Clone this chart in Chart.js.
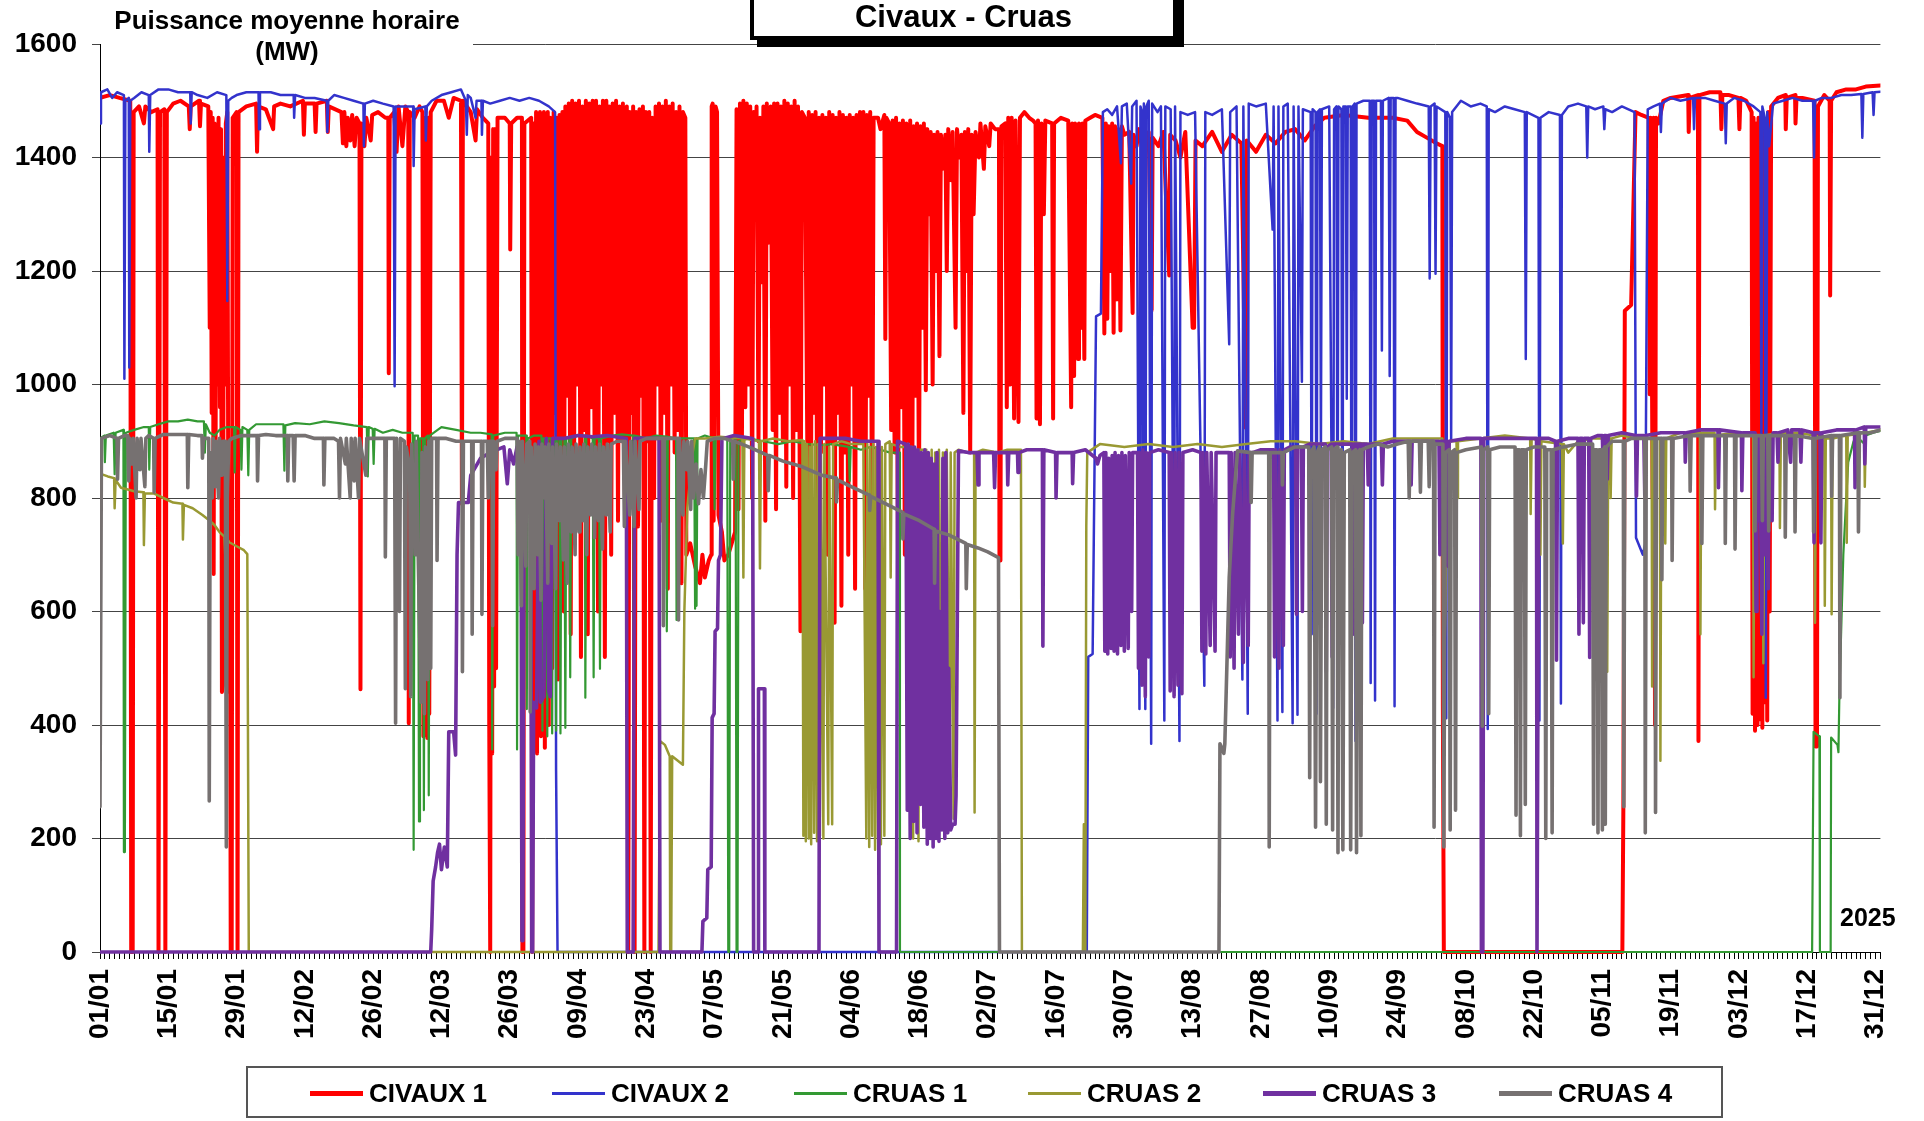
<!DOCTYPE html>
<html>
<head>
<meta charset="utf-8">
<script src="https://cdn.jsdelivr.net/npm/chart.js@4.4.1/dist/chart.umd.min.js"></script>
<style>
  html, body { margin: 0; padding: 0; background: #fff; overflow: hidden; }
  #wrap { position: relative; width: 1924px; height: 1121px; font-family: "Liberation Sans", Arial, sans-serif; font-weight: bold; color: #000; }
  #chart { position: absolute; left: 0; top: 0; }
  #yTitle { position: absolute; left: 101px; top: 0; width: 372px; height: 64px; background: #fff; text-align: center; font-size: 26px; line-height: 31px; padding-top: 5px; box-sizing: border-box; }
  #title { position: absolute; left: 750px; top: -10px; width: 419px; height: 39px; border: 4px solid #000; background: #fff; box-shadow: 7px 7px 0 #000; text-align: center; font-size: 31px; line-height: 39px; padding-top: 3px; box-sizing: content-box; }
  #year { position: absolute; left: 1840px; top: 903px; font-size: 25px; line-height: 28px; }
  #legend { position: absolute; left: 246px; top: 1066px; width: 1477px; height: 52px; border: 2px solid #555; box-sizing: border-box; }
  .item { position: absolute; top: 0; height: 50px; display: flex; align-items: center; font-size: 26px; }
  .item span.line { display: inline-block; width: 53px; margin-right: 6px; }
</style>
</head>
<body>
<div id="wrap">
  <canvas id="chart" width="1924" height="1121"></canvas>
  <div id="yTitle">Puissance moyenne horaire<br>(MW)</div>
  <div id="title">Civaux - Cruas</div>
  <div id="year">2025</div>
  <div id="legend"></div>
</div>
<script>
// x = day of year (0 = 01/01), y = MW
const tickLabels = ["01/01","15/01","29/01","12/02","26/02","12/03","26/03","09/04","23/04","07/05","21/05","04/06","18/06","02/07","16/07","30/07","13/08","27/08","10/09","24/09","08/10","22/10","05/11","19/11","03/12","17/12","31/12"];
const seriesNames = ["CIVAUX 1", "CIVAUX 2", "CRUAS 1", "CRUAS 2", "CRUAS 3", "CRUAS 4"];

const civaux1 = [
[0,1505],[2,1510],[4,1505],[6.2,1500],[6.4,0],[6.7,0],[6.9,1480],[8,1490],[9,1460],[9.3,1490],[10.5,1480],[11.8,1485],[12,0],[12.3,1480],[13.2,1485],[13.4,0],[13.7,1480],[15,1495],[16.5,1500],[18.2,1490],[18.4,1450],[18.6,1490],[20.3,1500],[20.5,1455],[20.7,1495],[22.2,1490],
[22.5,1100],[22.7,1480],[22.9,950],[23.1,1470],[23.3,666],[23.5,1460],[23.7,900],[23.9,1450],[24.1,1000],[24.3,1470],[24.6,960],[24.8,1450],[25,458],[25.2,470],[25.4,1400],[25.6,1000],[25.8,1460],[26.1,1480],[26.4,458],[26.7,458],[26.8,0],[27,0],[27.2,1470],[28,1480],[28.2,0],[28.4,1480],
[30,1490],[32,1495],[32.2,1410],[32.4,1490],[34,1485],[35.5,1450],[35.7,1490],[37,1495],[39,1490],[41.6,1500],[41.8,1440],[42,1495],[44,1495],[44.2,1445],[44.4,1495],[46.5,1500],[46.7,1445],[46.9,1490],
[49.5,1480],[49.8,1425],[50.1,1480],[50.5,1420],[50.8,1470],[51.3,1430],[51.7,1475],[52.2,1420],[52.6,1470],[53.2,1460],[53.4,463],[53.6,1460],[54.2,1420],[54.6,1470],[55.5,1430],[55.8,1475],[57,1480],[58.5,1470],[59.1,1470],[59.2,1020],[59.4,1470],[60.3,1480],
[60.8,1410],[61.2,1490],[62,1420],[62.6,1490],[63.2,1480],[63.3,403],[63.5,1480],[64.5,1470],[65.5,1490],[66.1,1480],[66.3,380],[66.5,1470],[66.7,400],[66.9,1460],[67.1,377],[67.3,1470],[67.5,420],[67.8,1480],[69,1500],[70.5,1500],[71.5,1470],[72.5,1505],[74,1500],[74.2,790],[74.4,1500],[76,1480],[77,1430],[77.3,1485],[78.5,1470],
[79.6,1460],[79.8,400],[80,0],[80.2,1400],[80.4,350],[80.6,1450],[80.8,468],[81,1450],[81.2,500],[81.5,1470],[83,1470],[84,1460],[84.1,1238],[84.3,1460],[85.5,1470],[86.5,1470],[86.6,0],[86.8,0],[87,1460],[88.4,1470],[88.6,0],[88.9,1460],
[89.2,400],[89.4,1480],[89.6,350],[89.8,1470],[90,450],[90.2,1480],[90.4,380],[90.6,1470],[90.8,420],[91,1480],[91.2,360],[91.4,1470],[91.6,450],[91.8,1480],[92,400],[92.3,1470],
[92.7,500],[93,1480],[93.3,950],[93.6,1470],[93.9,480],[94.2,1475],[94.5,900],[94.8,1480],[95.1,600],[95.4,1490],[95.8,980],[96.1,1495],[96.5,560],[96.8,1500],[97.2,880],[97.5,1495],[97.9,1000],[98.2,1500],[98.6,520],[98.9,1490],[99.3,920],[99.6,1500],[100,560],[100.3,1495],[100.7,960],[101,1500],[101.4,870],[101.7,1500],[102.1,600],[102.4,1490],[102.8,1000],[103.1,1500],[103.5,520],[103.8,1500],[104.1,900],[104.4,1490],[104.8,700],[105.1,1495],[105.5,950],[105.8,1500],[106.2,760],[106.5,1490],[106.9,900],[107.2,1495],[107.6,800],[108,1490],[108.3,0],[108.6,1480],[109,950],[109.3,1490],[109.6,0],[109.9,1480],[110.3,750],[110.6,1485],[111,980],[111.3,1490],[111.6,0],[111.9,1480],[112.3,900],[112.6,1480],[112.9,0],[113.2,1470],[113.6,800],[113.9,1490],[114.3,1000],[114.6,1495],[115,760],[115.3,1490],[115.7,950],[116,1500],[116.4,640],[116.7,1490],[117.1,1000],[117.4,1495],[117.8,880],[118.1,1480],[118.5,920],[118.8,1490],[119.2,650],[119.5,1480],
[120,1470],[120.2,700],[121,720],[122,680],[123,650],[123.5,700],[124,660],[124.8,690],[125.3,700],[125.4,1490],[125.6,1495],[125.8,760],[126.2,1490],[126.5,1480],[126.8,770],[127.5,740],[128,690],[128.8,700],[129.5,720],[130.2,740],
[130.5,1485],[130.9,780],[131.2,1495],[131.6,900],[131.9,1500],[132.3,960],[132.6,1495],[133,1000],[133.3,1490],[133.7,800],[134,1480],[134.4,1300],[134.6,1490],[135,900],[135.3,1470],[135.7,1180],[136,1490],[136.4,760],[136.7,1495],[137.1,1250],[137.5,1490],[137.9,920],[138.2,1495],
[138.6,780],[138.9,1495],[139.3,950],[139.6,1490],[140,900],[140.3,1500],[140.7,820],[141,1495],[141.4,1000],[141.7,1490],[142.1,800],[142.4,1500],[142.8,920],[143.1,1490],[143.6,565],[143.9,1480],
[144.5,1470],[145,900],[145.3,1480],[145.7,620],[146,1475],[146.4,950],[146.7,1480],[147.1,590],[147.4,1470],[147.8,880],[148.1,1475],[148.5,1000],[148.8,1470],[149.2,700],[149.5,1480],[149.9,900],[150.2,1475],[150.6,580],[150.9,1470],[151.3,950],[151.6,1480],[152,610],[152.3,1475],[152.7,880],[153,1470],[153.4,700],[153.7,1475],[154.1,1000],[154.4,1470],[154.8,640],[155.1,1475],[155.5,900],[155.8,1480],
[156.2,900],[156.5,1480],[156.9,640],[157.2,1475],[157.6,980],[157.9,1480],[158.3,680],[158.6,1470],[159.5,1470],[160,1450],[160.8,1475],[161,1080],[161.2,1470],
[161.8,1460],[162.2,920],[162.5,1465],[162.9,880],[163.2,1470],[163.6,690],[163.9,1460],[164.3,960],[164.6,1465],[165,700],[165.3,1460],[165.8,900],[166.1,1465],[166.5,760],[166.8,1455],[167.2,980],[167.5,1460],[167.9,800],[168.2,1455],[168.6,1100],[168.9,1460],[169.3,990],[169.6,1450],
[170,1300],[170.3,1445],[170.7,1000],[171,1440],[171.4,1200],[171.7,1445],[172.1,1050],[172.4,1440],[172.8,1380],[173.3,1440],[173.6,1200],[173.9,1450],[174.5,1360],[174.8,1445],[175.4,1100],[175.7,1450],[176.2,1400],[176.6,1440],[177,950],[177.3,1445],[177.7,1200],[178,1450],[178.4,880],[178.7,1440],[179.1,1300],[179.5,1445],[180.2,1400],[180.5,1460],[181.2,1380],[181.5,1455],[182.3,1420],[182.6,1460],[183.5,1450],[184.3,1450],[184.4,690],[184.6,690],[184.8,1455],
[185.6,1460],[185.9,960],[186.2,1470],[186.6,1000],[186.9,1470],[187.4,940],[187.7,1465],[188.3,934],[188.6,1470],[189.5,1480],[190.5,1470],[191.3,1465],[191.8,1460],[192,940],[192.3,1465],[192.7,930],[193,1460],[193.5,1300],[193.8,1465],[195.2,1460],[195.4,940],[195.6,1460],[197,1470],[198.5,1465],[199.1,960],[199.3,1460],[199.7,1015],[199.9,1460],[200.5,1045],[200.7,1460],[201.2,1100],[201.4,1460],[201.8,1045],[202,1465],[203,1470],[204,1475],[205.5,1470],
[205.9,1090],[206.2,1460],[206.5,1116],[206.8,1455],[207.2,1200],[207.5,1460],[207.8,1091],[208.1,1455],[208.5,1150],[208.8,1450],[209.2,1095],[209.5,1455],
[210,1440],[211,1445],[211.7,1126],[211.9,1440],[212.5,1420],[213,1450],[214,1400],[215,1445],[215.6,1131],[215.8,1435],[217,1420],[218,1445],[219.2,1192],[219.4,1440],[220.5,1430],[221.5,1400],[222.5,1445],[224,1100],[224.3,1100],[224.6,1430],[226,1420],[228,1445],[230,1410],[232,1440],[234,1425],[234.9,924],[235.1,1430],[237,1410],[239,1440],[241,1425],[243,1445],[245,1450],[247,1430],[249,1455],[251,1470],[255,1475],[260,1470],[265,1470],[268,1465],[270,1445],[272,1435],[274,1425],[275.2,1420],[275.3,433],[275.5,0],
[312.1,0],[312.3,250],[312.6,1130],[313.9,1140],[314.8,1480],[316,1475],[317.5,1470],[317.7,983],[317.9,1470],[318.3,800],[318.5,1470],[318.8,400],[319,1470],[319.5,1460],[320.5,1500],[322,1505],[325.6,1510],[325.7,1445],[325.9,1505],[327.6,1510],[327.7,372],[327.9,1510],[330,1515],[332.2,1515],[332.4,1450],[332.6,1510],[334,1510],[335.9,1505],[336.1,1450],[336.3,1505],[337.5,1500],
[338.6,1480],[338.8,420],[339,1470],[339.3,390],[339.5,1460],[339.8,400],[340,1470],[340.3,410],[340.5,1460],[340.8,395],[341,1470],[341.3,440],[341.5,1460],[341.8,408],[342,1480],[342.3,600],[342.6,1490],
[344,1505],[345.5,1510],[345.6,1450],[345.8,1505],[347.5,1510],[347.6,1460],[347.8,1505],[349,1505],[351.5,1500],[351.7,362],[352,362],[352.2,1490],[353.5,1510],[354.6,1500],[354.7,1157],[354.9,1500],[356,1515],[358,1520],[360,1520],[362,1525],[365,1527]
];

const civaux2 = [
[0,1460],[0.2,1515],[1.5,1520],[2.5,1505],[3.5,1515],[4.9,1510],[5,1010],[5.2,1500],[5.9,1505],[6,1030],[6.2,1500],[7,1505],[8.5,1515],[10,1510],[10.1,1410],[10.3,1510],[12,1520],[14,1520],[16,1515],[18.5,1515],[18.6,1460],[18.8,1515],[20,1510],[22,1505],[24,1515],[25.9,1510],[26.1,1147],[26.3,1500],[27,1505],[28,1510],[30,1515],[32.5,1515],[32.6,1450],[32.8,1515],[35,1515],[37,1510],[39.7,1510],[39.8,1470],[40,1510],[42,1505],[44,1505],[46.5,1500],[46.6,1445],[46.8,1500],[48,1510],[50,1505],[52,1500],[54,1495],[54.1,1420],[54.3,1495],[56,1500],[58,1495],[60.2,1490],[60.4,997],[60.6,1490],[62,1490],[64.2,1490],[64.3,1385],[64.5,1485],[66.7,1490],[66.8,1430],[67,1490],[68,1500],[70,1510],[72,1515],[74,1520],[75,1500],[75.2,1440],[75.4,1510],[76,1505],[77,1470],[77.2,1500],[78.2,1500],[78.3,1440],[78.5,1500],[80,1495],[82,1500],[84,1505],[86,1500],[88,1505],[90,1500],[92,1490],[93.3,1480],[93.5,320],[93.8,0],
[202.3,0],[202.6,520],[203.5,525],[204.2,1120],[205.2,1125],[205.6,1480],
[206.5,1485],[207.5,1475],[208.5,1490],[209.3,1390],[209.5,1490],[210.5,1495],[211.4,1354],[211.6,1490],[212.5,1500],[213.1,428],[213.3,1490],[213.6,1480],[213.8,489],[214,1495],[214.3,428],[214.5,1490],[215,1500],[215.5,367],[215.7,1495],[216.8,1480],[217.5,1490],[218.2,408],[218.4,1490],[219.5,1485],[220.2,460],[220.4,1490],[221.3,372],[221.5,1480],[223,1475],[224.5,1480],[226.4,469],[226.6,1480],[228,1475],[230,1485],[231.5,1071],[231.7,1480],[233,1490],[234.2,480],[234.4,1490],[235.3,420],[235.5,1495],[237,1490],[239,1495],[240.4,1273],[240.6,1490],[241.4,408],[241.6,1490],[242.4,423],[242.6,1490],[243.5,1495],[244.5,403],[244.7,1490],[245.5,418],[245.7,1490],[246.4,1005],[246.6,1485],
[248.2,1480],[248.4,560],[248.6,1485],[249.2,1480],[249.4,420],[249.6,1480],[250.1,1485],[250.3,880],[250.5,1485],[252,1490],[252.8,430],[253,1485],[253.5,1490],[253.7,580],[253.9,1490],[254.5,1485],[254.7,470],[254.9,1490],[255.4,1490],[255.6,975],[255.8,1490],[256.4,1490],[256.6,398],[256.8,1490],[257.2,1495],[257.4,372],[257.6,1495],[259,1500],[260.3,1500],[260.5,474],[260.7,1500],[261.2,1500],[261.4,443],[261.6,1500],[262.6,1500],[262.8,1060],[263,1500],[264.2,1505],[264.4,1015],[264.6,1505],[265.2,1505],[265.4,433],[265.6,1505],[266,1505],[268,1500],[270,1495],[272.4,1490],[272.6,1187],[272.8,1490],[273.6,1495],[273.8,1195],[274,1490],[275.8,1480],[276,412],[276.2,1480],[276.8,1470],[277,900],[277.2,1480],[279,1500],[281,1490],[283,1495],[284.3,1490],[284.5,393],[284.7,1485],[286,1480],[288,1490],[290,1485],[292.1,1480],[292.3,1045],[292.5,1480],[294.9,1470],[295.1,408],[295.3,1470],[297,1480],[299.3,1475],[299.5,438],[299.7,1475],[301,1490],[303,1495],[304.7,1490],[304.9,1400],[305.1,1490],[306.5,1485],[308.2,1490],[308.4,1450],[308.6,1485],[310,1480],[312,1490],[314.6,1480],[314.9,730],[316.3,700],[316.8,720],[317.3,1485],[318.5,1490],[319.8,1495],[320,1445],[320.2,1495],[322,1505],[324,1500],[326.6,1505],[326.8,1450],[327,1505],[329,1505],[331,1500],[333.1,1495],[333.3,1425],[333.5,1495],[335,1505],[337,1500],[339,1490],[340.4,1480],[340.6,900],[340.8,1490],[341.3,1470],[341.5,448],[341.8,1480],[342.2,1420],[343,1495],[345,1500],[347,1505],[349,1500],[351.2,1500],[351.4,1400],[351.6,1500],[353,1505],[355,1505],[357,1510],[359,1510],[361.1,1512],[361.3,1435],[361.5,1512],[363.4,1515],[363.6,1475],[363.8,1515],[365,1516]
];

const cruas1 = [
[0,905],[0.9,910],[1,863],[1.2,910],[2.8,915],[3,842],[3.2,915],[4.8,920],[4.9,176],[5.1,176],[5.3,915],[7,920],[9,925],[10,925],[10.1,850],[10.3,925],[12,930],[14,935],[16,935],[18,938],[20,935],[21.3,935],[21.5,880],[21.7,930],[22.5,915],[23.5,910],[24.5,920],[26,925],[27.5,925],[27.6,845],[27.8,925],[28.8,920],[29,850],[29.2,925],[30.2,920],[30.4,840],[30.6,920],[32,930],[35,930],[37.6,930],[37.8,848],[38,928],[40,932],[43,930],[46,935],[49,932],[52,928],[54.7,925],[54.9,838],[55.1,925],[55.9,922],[56.1,860],[56.3,922],[58,915],[60,920],
[62,915],[64.1,915],[64.3,180],[64.5,910],[65.2,910],[65.4,230],[65.6,905],[66.2,905],[66.4,250],[66.6,905],[67.2,910],[67.4,276],[67.6,910],[70,925],[73,920],[76,915],[78,915],[80.3,912],[80.4,357],[80.6,910],[83,915],[85.4,915],[85.5,357],[85.7,910],[87.4,910],[87.5,428],[87.7,905],[89,910],[90.5,910],[90.7,390],[90.9,905],[91.5,905],[91.7,380],[91.9,905],[92.5,905],[92.7,385],[92.9,905],[93.3,905],[93.5,390],[93.7,905],[94.2,905],[94.4,385],[94.6,905],[95.2,905],[95.4,395],[95.6,905],[96.2,905],[96.4,484],[96.6,905],[98,910],[99.4,910],[99.5,448],[99.7,910],[101,905],[101.2,484],[101.4,905],[102.3,905],[102.5,499],[102.7,905],[105,910],[107,912],[109.3,910],[109.4,534],[109.6,910],[112,905],[114,910],[116.1,908],[116.2,565],[116.4,908],[118.1,905],[118.2,585],[118.4,905],[120,905],[121.8,905],[122,605],[122.2,905],[122.3,610],[122.5,905],[124,910],[125.8,905],[126,780],[126.2,905],[128.6,905],[128.8,0],[129,0],[129.2,905],[130.3,905],[130.5,0],[130.7,0],[130.9,900],[133,905],[136,900],[139,895],[142,900],[145,895],[148,893],[150,895],[153.5,890],[153.7,830],[153.9,890],[156,885],[158,890],[160,885],[162,880],[163.9,880],[164,0],
[351,0],[351.3,388],[352.5,380],[352.6,0],[354.8,0],[354.9,378],[356.2,365],[356.4,352],[356.6,458],[357.4,700],[358,800],[358.4,863],[359.5,900],[360.5,905],[361.8,895],[362,910],[363.5,915],[365,918]
];

const cruas2 = [
[0,843],[1.6,838],[2.9,835],[3,782],[3.2,832],[4.3,818],[5.7,815],[7,812],[8.9,810],[9,717],[9.2,808],[11,808],[13,800],[15,792],[16.9,790],[17,727],[17.2,788],[19,782],[21,770],[22.5,760],[23.5,752],[24.5,740],[25.5,732],[25.7,696],[25.9,730],[26.5,722],[28,715],[29.5,708],[30.2,701],[30.5,0],
[114.5,0],[114.8,372],[115.8,365],[116.8,345],[116.9,0],[117.1,0],[117.3,345],[119.5,330],[119.8,600],[120.4,782],[121.5,880],[122,905],[124,905],[127,908],[131.7,905],[131.9,660],[132.1,905],[135.1,900],[135.3,676],[135.5,900],[138,905],[141,900],[144,902],
[144.2,205],[144.4,900],[144.7,195],[144.9,895],[145.3,200],[145.5,890],[145.8,190],[146,895],[146.4,210],[146.6,900],[147,195],[147.2,895],[147.6,205],[147.8,890],[148.3,200],[148.5,895],[149.3,225],[149.5,890],[150.1,225],[150.3,895],[152,900],[154,895],[156.5,895],
[157.1,200],[157.3,895],[157.7,185],[157.9,890],[158.3,205],[158.5,895],[158.9,180],[159.1,890],[159.5,200],[159.7,895],[160.1,190],[160.3,890],[160.8,205],[161,895],[161.9,900],[162.1,660],[162.3,895],[164,890],[166.5,890],[166.7,200],[166.9,885],[167.6,885],[167.8,195],[168,885],
[169.4,885],[169.6,240],[169.8,880],[170.3,230],[170.5,885],[171,255],[171.2,880],[171.8,225],[172,885],[172.6,245],[172.8,880],[173.4,230],[173.6,885],[174.2,250],[174.4,880],[175,235],[175.2,880],[176,885],[178,880],[179.2,880],[179.3,246],[179.5,880],[181,885],[184,880],[186,885],[188.8,885],[189,0],[201.5,0],[201.7,225],[201.9,0],[202,0],[202.2,750],[202.4,880],
[205,895],[210,890],[215,895],[220,890],[225,895],[230,890],[235,895],[240,900],[245,900],[250,895],[255,900],[260,895],[265,905],[270,905],[275.2,905],[275.4,433],[275.8,600],[276.2,850],[276.5,900],[278.1,900],[278.2,800],[278.4,900],[283,905],[288,910],[293.2,905],[293.3,772],[293.5,905],[295.2,900],[295.3,700],[295.5,900],[299.7,895],[299.9,720],[300.1,895],[301,880],[303,900],[306,905],[308.9,905],[309,494],[309.2,905],[309.6,905],[309.7,800],[309.9,905],[312,910],[315,905],[318.1,905],[318.2,468],[318.4,905],[319.8,905],[319.9,337],[320.1,905],[320.8,905],[320.9,720],[321.1,905],[324,915],[328,915],[328.1,560],[328.3,915],[331,915],[331.1,780],[331.3,910],[335,915],[338.9,910],[339,484],[339.2,910],[340.9,910],[341,509],[341.2,910],[344.3,915],[344.4,747],[344.6,915],[348,915],[351.5,910],[351.6,580],[351.8,910],[353.5,905],[353.6,610],[353.8,905],[354.9,905],[355,595],[355.2,905],[358,910],[358.1,721],[358.3,910],[361.7,915],[361.8,820],[362,915],[365,920]
];

const cruas3 = [
[0,0],[67.8,0],[68,40],[68.3,125],[68.8,150],[69.2,175],[69.6,190],[70,145],[70.6,185],[71.2,150],[71.5,388],[72.5,388],[72.9,347],[73.2,700],[73.5,792],[75.5,792],[76,840],[78,870],[80,880],[82.8,890],[83.5,825],[84,885],[84.8,860],[85.5,890],[86.3,880],[86.5,20],[86.7,20],[86.9,790],[87.3,790],[87.8,880],[88.3,880],[88.5,0],[88.7,0],[88.9,440],[89.5,430],[90,900],[90.3,440],[91,450],[91.5,905],[92,460],[92.3,450],[92.8,905],[95,905],[98,910],[101,908],[104,910],[107.9,905],[108.1,0],[109.3,0],[109.6,905],[112,905],[114.6,905],[114.8,0],
[123.4,0],[123.6,54],[124.4,60],[124.6,145],[125.3,150],[125.5,413],[125.9,420],[126.1,565],[126.6,570],[126.8,690],[127.2,700],[127.5,904],[130,910],[133.8,905],[134,0],[134.9,0],[135,464],[136.2,464],[136.3,0],[147.4,0],[147.6,905],[150,905],[153,905],[156,900],[159.5,900],[159.7,0],[163.3,0],[163.5,900],[165.2,895],
[165.5,250],[165.7,895],[166.1,200],[166.3,890],[166.8,230],[167,890],[167.5,210],[167.7,885],[168.2,260],[168.4,880],[168.9,220],[169.1,885],
[169.6,190],[169.8,880],[170.2,200],[170.4,870],[170.8,185],[171,860],[171.4,200],[171.6,880],[172,195],[172.2,600],[172.6,215],[172.8,870],[173.2,200],[173.4,880],[173.8,210],[174,500],[174.4,215],[174.8,225],[175.3,225],[175.5,276],[176,883],[178,880],[179.8,880],[180,823],[180.2,880],[183.2,880],[183.4,818],[183.6,880],[186,880],[186.1,823],[186.3,880],[188.1,880],[188.2,845],[188.4,880],[190,885],[193.2,885],[193.3,539],[193.5,885],[195.9,880],[196,800],[196.2,880],[199.3,880],[199.4,825],[199.6,880],[202,885],[204.2,870],[204.5,860],[205,875],[205.8,880],
[206,530],[206.2,880],[206.6,525],[206.8,870],[207.3,535],[207.5,875],[207.9,530],[208.1,880],[208.6,525],[208.8,875],[209.3,540],[209.5,880],[210,530],[210.2,875],[210.8,535],[211,880],[211.5,600],[211.7,880],
[212.7,880],[212.9,500],[213.1,880],[213.6,470],[213.8,885],[214.3,450],[214.5,880],[215,520],[215.2,880],[217,885],[219.2,880],[219.4,460],[219.6,880],[220.2,450],[220.4,880],[221,470],[221.2,880],[221.8,455],[222,880],[224,885],[225.7,880],[225.9,530],[226.1,880],[226.7,525],[226.9,880],[227.6,540],[227.8,880],[228.6,530],[228.8,880],[229.5,880],[231.5,880],[231.7,520],[231.9,880],[232.5,500],[232.7,880],[233.4,560],[233.6,880],[234.4,510],[234.6,880],[235.4,540],[235.6,880],[236.3,880],[238,885],[240.6,885],[240.8,520],[241,885],[241.7,500],[241.9,885],[242.6,540],[242.8,885],[244,890],
[245.1,890],[245.3,595],[245.5,890],[246.3,890],[246.5,600],[246.7,890],[248,895],[251.2,895],[251.4,494],[251.6,890],[252.4,895],[252.6,520],[252.8,895],[254,895],[256.7,895],[256.9,560],[257.1,895],[257.7,895],[257.9,600],[258.1,895],[258.6,895],[258.8,580],[259,895],[259.8,895],[260,823],[260.2,895],[262.7,895],[262.9,823],[263.1,895],[265,900],[268.6,900],[268.8,823],[269,900],[272,900],[274.5,900],[274.7,700],[274.9,900],[276,900],[276.3,680],[276.6,900],[280,905],[283.1,905],[283.2,0],[283.5,0],[283.7,905],[287,905],[291,905],[294.5,905],[294.6,0],[294.8,0],[295,905],[297,905],[298.4,900],[298.6,514],[298.8,900],[301,905],[303,905],[303.2,560],[303.4,905],[303.9,905],[304.1,580],[304.3,905],[305.2,905],[305.4,519],[305.6,905],
[307,910],[308,910],[308.2,833],[308.4,910],[308.8,910],[309,833],[309.2,910],[312,915],[314.8,910],[315,803],[315.2,910],[316.5,910],[316.7,803],[316.9,910],[320,915],[324.9,915],[325,863],[325.2,915],[328,920],[331.7,920],[331.8,818],[332,920],[336.5,915],[336.6,813],[336.8,915],
[339.3,915],[339.5,600],[339.7,910],[340.1,760],[340.3,910],[340.7,560],[340.9,910],[341.3,700],[341.5,910],[342,640],[342.2,910],[342.8,760],[343,915],
[343.8,915],[344,863],[344.2,915],[346,920],[346.6,863],[346.8,920],[348.5,920],[348.7,863],[348.9,920],[351.2,915],[351.4,721],[351.6,915],[352.6,915],[352.8,721],[353,915],[356,920],[359.7,920],[359.8,818],[360,920],[361.7,925],[361.8,860],[362,925],[365,925]
];

const cruas4 = [
[0,256],[0.3,905],[2,910],[3.5,905],[3.6,833],[3.8,905],[5,910],[5.7,910],[5.9,830],[6.1,905],[6.5,860],[6.8,905],[7.4,800],[7.6,905],[8.2,850],[8.4,905],[9.2,820],[9.4,905],[10,910],[11,905],[11.1,810],[11.3,905],[13,912],[15,912],[17.9,912],[18,818],[18.2,912],[20,910],[20.9,910],[21,870],[21.2,905],[22.3,905],[22.4,266],[22.6,880],[23,800],[23.2,905],[23.6,820],[23.8,900],[24.3,800],[24.5,905],[25,840],[25.2,900],[25.7,900],[25.9,185],[26.1,800],[26.4,900],[27,905],[29,910],[32.2,910],[32.3,830],[32.5,910],[34,912],[36,910],[38.4,910],[38.5,830],[38.7,910],[39.6,910],[39.8,830],[40,910],[42,910],[44,905],[45.8,905],[45.9,823],[46.1,905],[48,905],[48.9,900],[49.1,800],[49.3,905],[50.3,860],[50.5,905],[51.3,800],[51.5,905],[52.1,830],[52.3,905],[53,800],[53.2,905],[54.5,840],[54.7,905],[56,905],[58.4,905],[58.5,696],[58.7,905],[60.4,905],[60.6,403],[60.8,905],
[61.4,600],[61.6,905],[62.4,900],[62.6,464],[62.8,890],[63.5,850],[63.7,450],[63.9,895],[64.6,700],[64.8,900],[65.8,440],[66,880],[66.5,420],[66.7,890],[67.2,480],[67.4,900],[67.8,500],[68,905],[69,905],[69.1,690],[69.3,905],[71,905],[73,900],[74.2,900],[74.3,494],[74.5,900],[75,900],[76.2,900],[76.3,560],[76.5,900],[78.2,900],[78.3,595],[78.5,900],[79.4,900],[79.6,800],[79.8,900],[80.4,900],[80.5,575],[80.7,900],[81.2,850],[81.4,900],[83,905],
[85.5,905],[85.7,700],[85.9,900],[86.4,610],[86.6,900],[87.3,680],[87.5,895],[88.1,900],[88.2,423],[88.4,890],[89,640],[89.2,895],[89.7,700],[89.9,890],[90.4,620],[90.6,895],[91.1,800],[91.3,890],[91.8,650],[92,895],[92.6,720],[92.8,890],[93.4,640],[93.6,895],[94.2,760],[94.4,890],[95,691],[95.2,890],[95.8,650],[96,895],[96.6,740],[96.8,890],[97.4,700],[97.6,895],[98.2,740],[98.4,890],[99,760],[99.2,895],[99.8,700],[100,890],[100.6,770],[100.8,895],[101.4,730],[101.6,890],[102.2,760],[102.4,895],[103,710],[103.2,890],[103.8,770],[104,895],[104.6,740],[104.8,895],[106,900],[107.3,900],[107.5,750],[107.7,900],[108.6,770],[108.8,900],[109.5,750],[109.7,900],[110.5,780],[110.7,900],[112,905],[114,905],[115.4,905],[115.5,575],[115.7,905],[117,905],[118.5,905],[118.6,585],[118.8,905],[119.5,770],[119.7,900],[120.3,850],[120.5,900],[121.1,780],[121.3,900],
[121.7,800],[122.2,860],[122.7,790],[123.2,850],[123.7,800],[124.2,860],[124.5,900],[126,905],[128,905],[129.7,900],[129.8,833],[130,900],[133,890],[136.9,875],[137,813],[137.2,875],[140,865],[144,855],[148,840],[150.9,835],[151,793],[151.2,832],[154,820],[157.7,805],[157.8,778],[158,803],[161,790],[164.5,775],[164.6,728],[164.8,772],[168,760],[171,745],[171.1,650],[171.3,742],[174,735],[177.5,720],[177.6,640],[177.8,718],[180,712],[182,705],[184.2,695],[184.4,0],
[229.4,0],[229.6,367],[230.4,350],[230.6,367],[231.5,660],[232.2,772],[233.2,883],[235.9,880],[236,792],[236.2,880],[239.6,880],[239.7,185],[239.9,880],[242.3,880],[242.4,823],[242.6,880],[245,890],
[247.8,890],[248,307],[248.2,880],[248.9,890],[249.2,220],[249.5,880],[250,890],[250.2,300],[250.5,885],[251.2,890],[251.4,225],[251.6,885],[252.5,890],[252.7,215],[252.9,885],[253.6,890],[253.8,175],[254,880],[254.5,885],[254.8,180],[255.1,880],[256.2,885],[256.4,180],[256.7,880],[257.4,885],[257.6,175],[257.9,880],[258.3,885],[258.5,205],[258.7,885],[260,890],[262,895],[264,890],[266,895],[268.2,900],[268.4,800],[268.6,900],[270.5,900],[270.7,810],[270.9,900],[272.3,900],[272.5,820],[272.7,900],[273.4,900],[273.5,220],[273.7,895],[275.3,895],[275.5,185],[275.8,880],[276.6,885],[276.8,215],[277,880],[277.7,885],[277.9,250],[278.1,880],[280,885],[283.2,890],[283.4,398],[283.6,885],[284.5,890],[284.7,420],[284.9,885],[287,890],[290.1,890],[290.3,241],[290.5,885],[291,885],[291.2,205],[291.4,885],[292,885],[292.2,260],[292.4,885],[294,890],[296.2,890],[296.4,200],[296.6,885],[297.5,885],[297.7,210],[297.9,885],[300,890],[303,895],
[306,895],[306.2,225],[306.4,885],[306.9,885],[307.1,210],[307.3,885],[307.8,885],[308,215],[308.2,885],[308.5,890],[308.6,225],[308.8,890],[310,900],[312.3,900],[312.4,256],[312.6,900],[314,905],[316.7,905],[316.8,210],[317,905],[318.8,905],[318.9,246],[319.1,905],[320.1,905],[320.2,656],[320.4,905],[322.2,905],[322.3,690],[322.5,905],[325.9,910],[326,812],[326.2,910],[328.3,910],[328.4,720],[328.6,910],[333.1,910],[333.2,720],[333.4,910],[335.1,910],[335.2,710],[335.4,910],[339.2,910],[339.3,742],[339.5,910],[340.6,910],[340.8,760],[341,910],[341.9,910],[342.1,742],[342.3,910],[345.4,910],[345.5,731],[345.7,910],[347.4,910],[347.5,740],[347.7,910],[351.2,905],[351.3,740],[351.5,905],[354.9,910],[355,803],[355.2,910],[356.6,910],[356.7,448],[356.9,910],[360.4,915],[360.5,740],[360.7,915],[363,915],[365,920]
];

const FONT = "'Liberation Sans', Arial, sans-serif";
const colors = ["#ff0000", "#3333cc", "#339933", "#999933", "#7030a0", "#767171"];
const widths = [4, 2.5, 2.2, 2.5, 3.6, 3.6];
const allSeries = [civaux1, civaux2, cruas1, cruas2, cruas3, cruas4];

const datasets = allSeries.map((s, i) => ({
  label: seriesNames[i],
  data: s.map(([x, y]) => ({ x, y })),
  borderColor: colors[i],
  borderWidth: widths[i],
  order: 6 - i,            // first series at the bottom, like the original
  clip: { left: 0, top: 4, right: 0, bottom: 3 }
}));

new Chart(document.getElementById("chart"), {
  type: "line",
  data: { datasets },
  options: {
    responsive: false,
    animation: false,
    parsing: false,
    normalized: true,
    layout: { padding: { top: 44, right: 41, left: 0, bottom: 0 } },
    plugins: { legend: { display: false }, tooltip: { enabled: false } },
    elements: {
      point: { radius: 0 },
      line: { tension: 0, borderJoinStyle: "round", borderCapStyle: "round" }
    },
    scales: {
      x: {
        type: "linear",
        min: 0,
        max: 365,
        afterBuildTicks: (s) => {
          const t = [];
          for (let d = 0; d <= 365; d++) t.push({ value: d });
          s.ticks = t;
        },
        afterFit: (s) => { s.height = 169; },
        ticks: {
          autoSkip: false,
          minRotation: 90,
          maxRotation: 90,
          padding: 10,
          color: "#000",
          font: { family: FONT, size: 28, weight: "bold" },
          callback: (v) => (v % 14 === 0 && v / 14 < tickLabels.length) ? tickLabels[v / 14] : ""
        },
        grid: { drawOnChartArea: false, tickLength: 7, color: "#000" },
        border: { color: "#000", width: 1 }
      },
      y: {
        min: 0,
        max: 1600,
        afterFit: (s) => { s.width = 100; },
        ticks: {
          stepSize: 200,
          padding: 15,
          color: "#000",
          font: { family: FONT, size: 28, weight: "bold" },
          callback: (v) => String(v)
        },
        grid: { color: "#444", tickLength: 8 },
        border: { color: "#000", width: 1 }
      }
    }
  }
});

// legend box under the chart
const legendX = [62, 304, 546, 780, 1015, 1251];
const legendW = [5, 3, 3, 3, 5, 5];
const legend = document.getElementById("legend");
seriesNames.forEach((name, i) => {
  const it = document.createElement("div");
  it.className = "item";
  it.style.left = legendX[i] + "px";
  it.innerHTML = '<span class="line" style="height:' + legendW[i] + 'px;background:' + colors[i] + '"></span>' + name;
  legend.appendChild(it);
});
</script>
</body>
</html>
